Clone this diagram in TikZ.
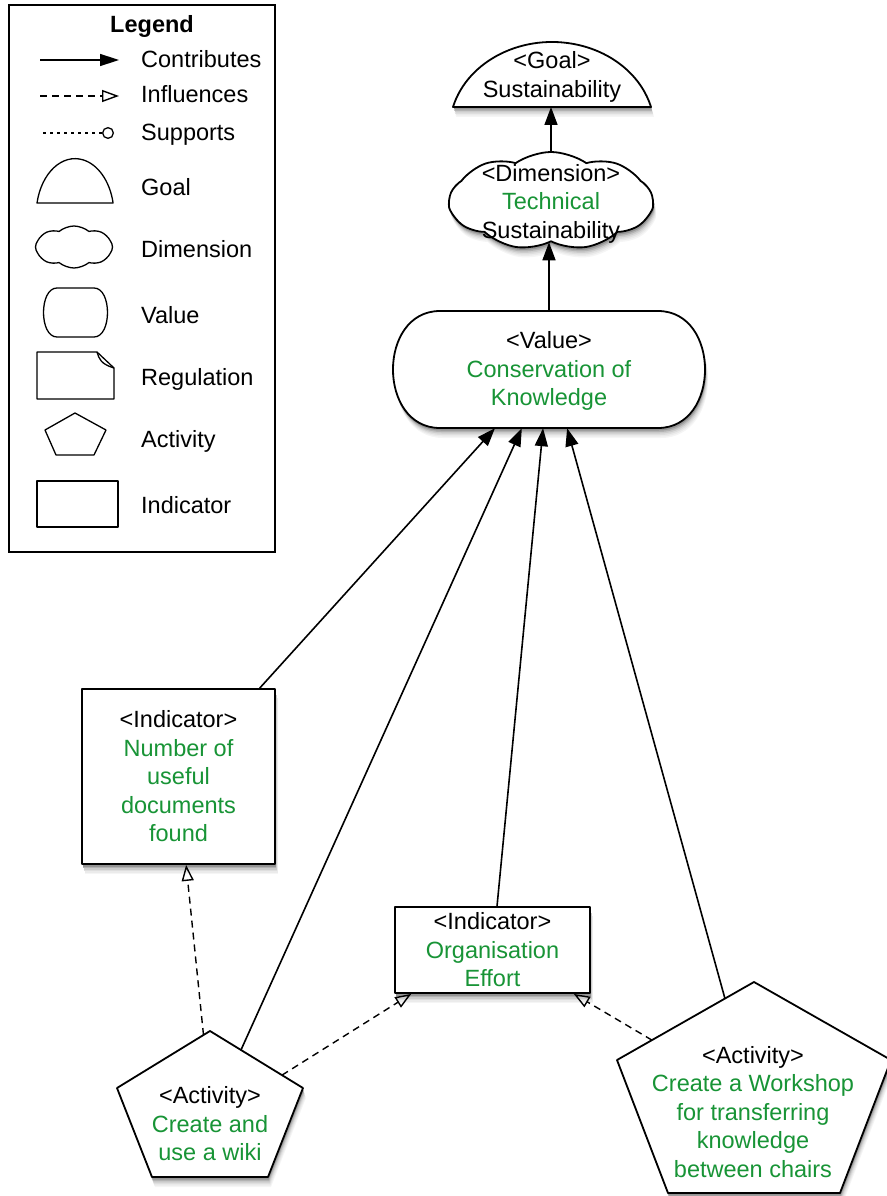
\documentclass[tikz,border=0pt]{standalone}
\usepackage{fontspec}
\setmainfont{Liberation Sans}
\usetikzlibrary{arrows.meta,shapes.symbols,calc}
\definecolor{valgreen}{RGB}{24,148,54}
\newcommand{\gr}[1]{\textcolor{valgreen}{#1}}
% outlines of the drawn shapes, reused for their soft shadows
\newcommand{\goalpath}{(453,107) arc[start angle=165, end angle=15, x radius=102.5pt, y radius=87.7pt] -- cycle}
\newcommand{\valpath}{(440,311) -- (658,311) .. controls (720.7,311) and (720.7,428) .. (658,428)
  -- (440,428) .. controls (377.3,428) and (377.3,311) .. (440,311) -- cycle}
\newcommand{\indonepath}{(82,689) rectangle (275,864)}
\newcommand{\indtwopath}{(395,907) rectangle (590,993)}
\newcommand{\actonepath}{(210,1031) -- (303,1088) -- (268,1177) -- (152,1177) -- (117,1088) -- cycle}
\newcommand{\acttwopath}{(754,982) -- (891,1060) -- (840,1193) -- (668,1193) -- (617,1060) -- cycle}
\tikzset{
  lbl/.style={font=\fontsize{23.5}{28.5}\selectfont, inner sep=0pt},
  txt/.style={font=\fontsize{23.5}{28.5}\selectfont, align=center, inner sep=0pt},
  legline/.style={draw=black, line width=1.3pt, fill=white, line join=round},
  shapeline/.style={draw=black, line width=1.8pt, fill=white, line join=round},
  contributes/.style={line width=1.6pt, -{Triangle[length=18pt,width=13pt]}},
  influences/.style={line width=1.4pt, dash pattern=on 7pt off 5pt,
      -{Triangle[open,length=16pt,width=12pt]}},
  supports/.style={line width=1.3pt, dash pattern=on 2.5pt off 4.5pt,
      -{Circle[open,length=12pt]}},
  cloudshape/.style={cloud, cloud puffs=9, cloud puff arc=70, cloud ignores aspect, inner sep=0pt},
}
\begin{document}
\begin{tikzpicture}[x=1pt,y=-1pt]
\useasboundingbox (0,0) rectangle (886,1196);

% ---------------- legend ----------------
\node[draw, line width=1.4pt, minimum width=266pt, minimum height=547pt, inner sep=0pt]
  (legend) at (142,278.5) {};
\node[lbl, font=\fontsize{23.5}{28.5}\selectfont\bfseries, anchor=base] (legtitle) at (152,33) {Legend};

\coordinate (lc1) at (40,60);  \coordinate (lc2) at (119,60);
\draw[contributes, line width=1.5pt, -{Triangle[length=19pt,width=12pt]}] (lc1) -- (lc2);
\node[lbl, anchor=base west] (lcon) at (141,68) {Contributes};

\coordinate (li1) at (40,96);  \coordinate (li2) at (119,96);
\draw[influences, -{Triangle[open,length=17pt,width=12pt]}] (li1) -- (li2);
\node[lbl, anchor=base west] (linf) at (141,103) {Influences};

\coordinate (ls1) at (43,133);  \coordinate (ls2) at (114,133);
\draw[supports] (ls1) -- (ls2);
\node[lbl, anchor=base west] (lsup) at (141,141) {Supports};

% goal symbol
\draw[legline] (37,203) arc[start angle=168, end angle=12, x radius=38.9pt, y radius=56pt] -- cycle;
\node[lbl, anchor=base west] (lgoal) at (141,195) {Goal};

% dimension symbol
\node[cloudshape, cloud puffs=8, cloud puff arc=80, legline, minimum width=77pt,
  minimum height=42pt] (ldimshape) at (74,247) {};
\node[lbl, anchor=base west] (ldim) at (141,257) {Dimension};

% value symbol
\draw[legline] (57,288) -- (94,288) .. controls (112,288) and (112,337) .. (94,337)
  -- (57,337) .. controls (39,337) and (39,288) .. (57,288) -- cycle;
\node[lbl, anchor=base west] (lval) at (141,323) {Value};

% regulation symbol
\draw[legline] (37,352) -- (97,352) -- (114,368) -- (114,399) -- (37,399) -- cycle;
\draw[legline, fill=none] (97,352) .. controls (99,359) and (101,364) .. (114,368);
\node[lbl, anchor=base west] (lreg) at (141,385) {Regulation};

% activity symbol
\draw[legline] (75,413) -- (106,430) -- (94,455) -- (56,455) -- (45,430) -- cycle;
\node[lbl, anchor=base west] (lact) at (141,447) {Activity};

% indicator symbol
\draw[legline] (37,481) rectangle (118,527);
\node[lbl, anchor=base west] (lind) at (141,513) {Indicator};

% ---------------- soft shadows under the diagram shapes ----------------
\foreach \k/\g in {10/4, 8.5/8, 7/13, 5.5/20, 4/30, 2.5/42}{
  \fill[black!\g, shift={(0.3*\k,\k)}] \goalpath;
  \fill[black!\g, shift={(0.3*\k,\k)}] \valpath;
  \fill[black!\g, shift={(0.3*\k,\k)}] \indonepath;
  \fill[black!\g, shift={(0.3*\k,\k)}] \indtwopath;
  \fill[black!\g, shift={(0.3*\k,\k)}] \actonepath;
  \fill[black!\g, shift={(0.3*\k,\k)}] \acttwopath;
  \node[cloudshape, fill=black!\g, minimum width=203pt, minimum height=98pt]
    at (551+0.3*\k,201+\k) {};
}

% ---------------- goal ----------------
\draw[shapeline] \goalpath;
\coordinate (goalbase) at (552,107);
\node[txt] (goal) at (552,77) {<Goal>\\Sustainability};

% ---------------- dimension ----------------
\node[cloudshape, shapeline, minimum width=203pt, minimum height=98pt] (dim) at (551,201) {};
\node[txt] (dimtxt) at (551,203.5) {<Dimension>\\\gr{Technical}\\Sustainability};

% ---------------- value ----------------
\draw[shapeline] \valpath;
\node[txt, minimum width=312pt, minimum height=117pt] (val) at (549,369.5) {};
\node[txt] (valtxt) at (549,371) {<Value>\\\gr{Conservation of}\\\gr{Knowledge}};

% ---------------- indicators ----------------
\node[txt, shapeline, minimum width=193pt, minimum height=175pt] (ind1) at (178.5,776.5)
  {<Indicator>\\\gr{Number of}\\\gr{useful}\\\gr{documents}\\\gr{found}};
\node[txt, shapeline, minimum width=195pt, minimum height=86pt] (ind2) at (492.5,950)
  {<Indicator>\\\gr{Organisation}\\\gr{Effort}};

% ---------------- activities ----------------
\draw[shapeline] (210,1031) coordinate (a1t) -- (303,1088) coordinate (a1r)
  -- (268,1177) coordinate (a1br) -- (152,1177) coordinate (a1bl)
  -- (117,1088) coordinate (a1l) -- cycle;
\node[txt] (act1) at (210,1124) {<Activity>\\\gr{Create and}\\\gr{use a wiki}};

\draw[shapeline] (754,982) coordinate (a2t) -- (891,1060) coordinate (a2r)
  -- (840,1193) coordinate (a2br) -- (668,1193) coordinate (a2bl)
  -- (617,1060) coordinate (a2l) -- cycle;
\node[txt] (act2) at (753,1112) {<Activity>\\\gr{Create a Workshop}\\\gr{for transferring}\\\gr{knowledge}\\\gr{between chairs}};

% ---------------- contributions ----------------
\draw[contributes] (dim.north) -- (dim.north |- goalbase);
\draw[contributes] (val.north) -- (val.north |- dim.south);
\draw[contributes] ($(ind1.north west)!0.917!(ind1.north east)$) -- ($(val.south west)!0.327!(val.south east)$);
\draw[contributes] ($(a1t)!0.333!(a1r)$) -- ($(val.south west)!0.413!(val.south east)$);
\draw[contributes] ($(ind2.north west)!0.523!(ind2.north east)$) -- ($(val.south west)!0.481!(val.south east)$);
\draw[contributes] ($(a2t)!0.212!(a2l)$) -- ($(val.south west)!0.558!(val.south east)$);

% ---------------- influences ----------------
\draw[influences] ($(a1t)!0.07!(a1l)$) -- ($(ind1.south west)!0.539!(ind1.south east)$);
\draw[influences] ($(a1t)!0.774!(a1r)$) -- ($(ind2.south west)!0.087!(ind2.south east)$);
\draw[influences] ($(a2t)!0.745!(a2l)$) -- ($(ind2.south west)!0.913!(ind2.south east)$);
\end{tikzpicture}
\end{document}
